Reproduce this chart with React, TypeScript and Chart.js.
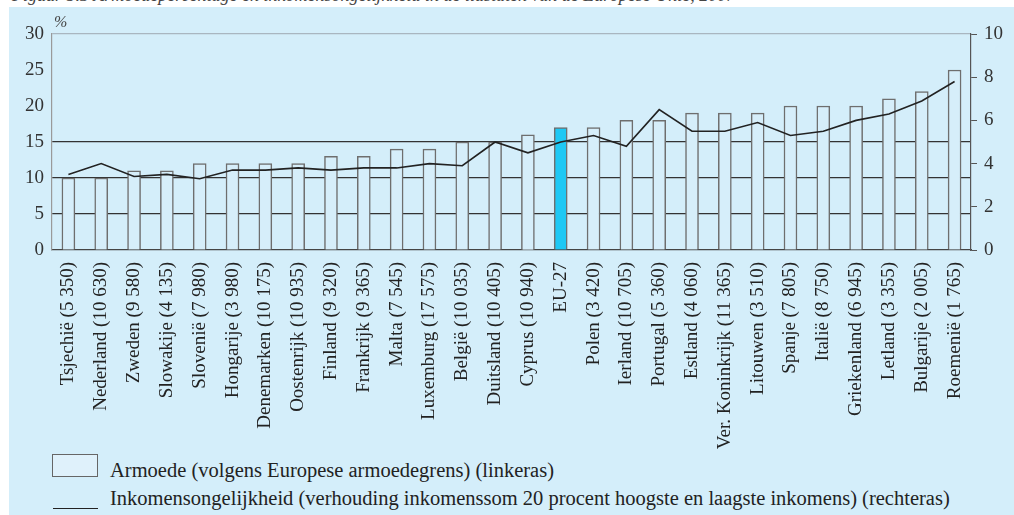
import React, { useEffect, useRef } from "react";
import { Chart, registerables } from "chart.js";

Chart.register(...registerables);

const categories: string[] = [
  "Tsjechië (5 350)", "Nederland (10 630)", "Zweden (9 580)", "Slowakije (4 135)",
  "Slovenië (7 980)", "Hongarije (3 980)", "Denemarken (10 175)", "Oostenrijk (10 935)",
  "Finland (9 320)", "Frankrijk (9 365)", "Malta (7 545)", "Luxemburg (17 575)",
  "België (10 035)", "Duitsland (10 405)", "Cyprus (10 940)", "EU-27",
  "Polen (3 420)", "Ierland (10 705)", "Portugal (5 360)", "Estland (4 060)",
  "Ver. Koninkrijk (11 365)", "Litouwen (3 510)", "Spanje (7 805)", "Italië (8 750)",
  "Griekenland (6 945)", "Letland (3 355)", "Bulgarije (2 005)", "Roemenië (1 765)",
];

const armoede: number[] = [
  10, 10, 11, 11, 12, 12, 12, 12, 13, 13, 14, 14, 15, 15, 16, 17,
  17, 18, 18, 19, 19, 19, 20, 20, 20, 21, 22, 25,
];

const ongelijkheid: number[] = [
  3.5, 4.0, 3.4, 3.5, 3.3, 3.7, 3.7, 3.8, 3.7, 3.8, 3.8, 4.0, 3.9, 5.0, 4.5, 5.0,
  5.3, 4.8, 6.5, 5.5, 5.5, 5.9, 5.3, 5.5, 6.0, 6.3, 6.9, 7.8,
];

const highlight = "EU-27";
const leftGridValues: number[] = [5, 10, 15];

const labelArmoede = "Armoede (volgens Europese armoedegrens) (linkeras)";
const labelOngelijkheid =
  "Inkomensongelijkheid (verhouding inkomenssom 20 procent hoogste en laagste inkomens) (rechteras)";
const titleText =
  "Figuur 5.3 Armoedepercentage en inkomensongelijkheid in de lidstaten van de Europese Unie, 2007";

const SERIF = "'Liberation Serif', 'Times New Roman', serif";

const percentPlugin = {
  id: "percentLabel",
  afterDraw(chart: any) {
    const { ctx, chartArea } = chart;
    ctx.save();
    ctx.font = `italic 16px ${SERIF}`;
    ctx.fillStyle = "#444";
    ctx.textAlign = "left";
    ctx.textBaseline = "alphabetic";
    ctx.fillText("%", chartArea.left + 2, chartArea.top - 7);
    ctx.restore();
  },
};

export default function App() {
  const ref = useRef<HTMLCanvasElement | null>(null);

  useEffect(() => {
    if (!ref.current) return;
    Chart.defaults.font.family = SERIF;
    const chart = new Chart(ref.current, {
      type: "bar",
      data: {
        labels: categories,
        datasets: [
          {
            type: "line",
            label: labelOngelijkheid,
            data: ongelijkheid,
            yAxisID: "y1",
            borderColor: "#222",
            borderWidth: 1.6,
            pointRadius: 0,
            tension: 0,
            order: 0,
          } as any,
          {
            type: "bar",
            label: labelArmoede,
            data: armoede,
            yAxisID: "y",
            backgroundColor: categories.map((c) => (c === highlight ? "#1ec8f4" : "#d6eefa")),
            borderColor: "#6e6e6e",
            borderWidth: { top: 1.5, left: 1.5, right: 1.5, bottom: 0 },
            borderSkipped: false,
            barThickness: 13,
            order: 1,
          } as any,
        ],
      },
      options: {
        responsive: false,
        animation: false,
        layout: { padding: { top: 27, left: 0, right: 0, bottom: 0 } },
        plugins: {
          legend: { display: false },
          tooltip: { enabled: false },
        },
        scales: {
          x: {
            grid: { display: false, drawTicks: false },
            border: { color: "#444", width: 1.2 },
            ticks: {
              autoSkip: false,
              maxRotation: 90,
              minRotation: 90,
              padding: 12,
              color: "#222",
              font: { size: 19, family: SERIF },
            },
            afterFit(scale: any) {
              scale.height = 202;
            },
          },
          y: {
            position: "left",
            min: 0,
            max: 30,
            ticks: {
              stepSize: 5,
              padding: 8,
              color: "#333",
              font: { size: 19, family: SERIF },
            },
            grid: {
              drawTicks: false,
              lineWidth: 1.2,
              color: (c: any) => {
                const v = c.tick && c.tick.value;
                if (leftGridValues.includes(v)) return "#333";
                if (v === 30) return "#a9b6c0";
                return "rgba(0,0,0,0)";
              },
            },
            border: { color: "#9a9a9a", width: 1.2 },
            afterFit(scale: any) {
              scale.width = 43;
            },
          },
          y1: {
            position: "right",
            min: 0,
            max: 10,
            ticks: {
              stepSize: 1,
              padding: 7,
              color: "#333",
              font: { size: 19, family: SERIF },
              callback: (v: any) => (Number(v) % 2 === 0 ? String(v) : ""),
            },
            grid: {
              drawOnChartArea: false,
              drawTicks: true,
              tickLength: 6,
              color: "#555",
            },
            border: { color: "#555", width: 1.2 },
            afterFit(scale: any) {
              scale.width = 43;
            },
          },
        },
      },
      plugins: [percentPlugin],
    });
    return () => chart.destroy();
  }, []);

  return (
    <div
      style={{
        position: "fixed",
        left: 0,
        top: 0,
        width: 1014,
        height: 515,
        background: "#fff",
        overflow: "hidden",
        fontFamily: SERIF,
      }}
    >
      <div
        style={{
          position: "absolute",
          left: 12,
          top: -14,
          fontStyle: "italic",
          fontSize: 18,
          lineHeight: "18px",
          color: "#444",
          whiteSpace: "nowrap",
        }}
      >
        {titleText}
      </div>
      <div
        style={{
          position: "absolute",
          left: 9,
          top: 7,
          width: 1005,
          height: 508,
          background: "#d4eefa",
        }}
      >
        <canvas
          ref={ref}
          width={1005}
          height={445}
          style={{ position: "absolute", left: 0, top: 0, width: 1005, height: 445 }}
        />
        <div
          style={{
            position: "absolute",
            left: 43,
            top: 447,
            width: 44,
            height: 21,
            background: "#dff1fb",
            border: "1px solid #666",
          }}
        />
        <div
          style={{
            position: "absolute",
            left: 101,
            top: 451,
            fontSize: 20.5,
            lineHeight: "24px",
            color: "#222",
            whiteSpace: "nowrap",
          }}
        >
          {labelArmoede}
        </div>
        <div
          style={{
            position: "absolute",
            left: 44,
            top: 501,
            width: 45,
            height: 0,
            borderTop: "1.5px solid #222",
          }}
        />
        <div
          style={{
            position: "absolute",
            left: 101,
            top: 479,
            fontSize: 20.5,
            lineHeight: "24px",
            color: "#222",
            whiteSpace: "nowrap",
          }}
        >
          {labelOngelijkheid}
        </div>
      </div>
    </div>
  );
}
